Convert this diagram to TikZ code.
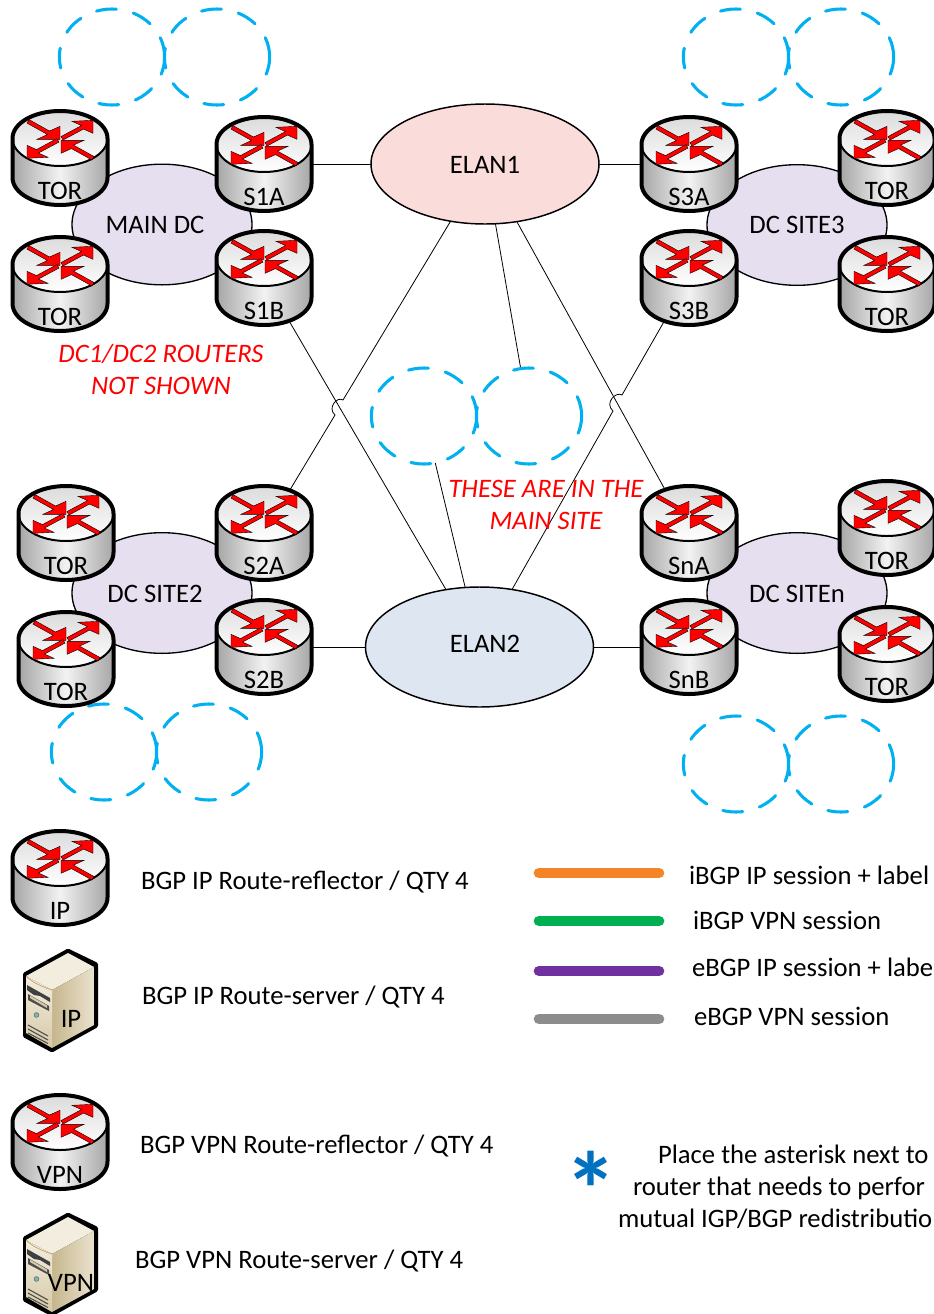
\documentclass[tikz,border=0pt]{standalone}
\usepackage{fontspec}
\setmainfont{Carlito}
\usetikzlibrary{shapes.geometric,backgrounds}
\definecolor{cloudblue}{HTML}{00B0F0}
\definecolor{dcfill}{HTML}{E6DFF0}
\definecolor{elanred}{HTML}{FADCDB}
\definecolor{elanblue}{HTML}{DEE6F2}
\definecolor{lorange}{HTML}{F58426}
\definecolor{lgreen}{HTML}{00B050}
\definecolor{lpurple}{HTML}{7030A0}
\definecolor{lgray}{HTML}{8C8C8C}
\definecolor{starblue}{HTML}{0070C0}
\definecolor{srvtop}{HTML}{F2EDDE}
\definecolor{srvrightA}{HTML}{C6B68E}
\definecolor{srvrightB}{HTML}{EAE2CE}
\definecolor{srvfrontA}{HTML}{F3EEE0}
\definecolor{srvfrontB}{HTML}{D6C9A6}
\definecolor{srvedge}{HTML}{C69A5E}
\tikzset{
  txt/.style={font=\fontsize{20}{24}\selectfont,text=black,inner sep=0pt,outer sep=0pt,text height=14pt,text depth=1.2pt},
  lefttxt/.style={txt,anchor=west},
  redtxt/.style={txt,text=red,font=\fontsize{20}{24}\selectfont\itshape},
  rtranchor/.style={circle,minimum size=70pt,inner sep=0pt,outer sep=0pt},
  dcell/.style={ellipse,draw=black,line width=1pt,fill=dcfill,minimum width=135pt,minimum height=90.5pt,inner sep=0pt,outer sep=0pt},
  elan/.style={ellipse,draw=black,line width=1.1pt,minimum width=171pt,minimum height=90pt,inner sep=0pt,outer sep=0pt},
  cloudell/.style={ellipse,draw=cloudblue,line width=2.3pt,line cap=round,dash pattern=on 15pt off 13pt,minimum width=79pt,minimum height=72pt,inner sep=0pt,outer sep=0pt},
  link/.style={draw=black,line width=0.6pt},
  legline/.style={line width=8pt,line cap=round},
  rarrow/.style={fill=red,draw=black,line width=0.3pt,line join=miter},
}
\newcommand{\rtr}[4]{%
  \node[rtranchor] (#1) at (#2,#3) {};
  \begin{scope}[shift={(#2,#3)}]
    \path[left color=black!35,right color=black!35,middle color=black!5]
      (-47.5,-19.5) -- (-47.5,19.5)
      .. controls (-47.5,35) and (-26,47) .. (0,47)
      .. controls (26,47) and (47.5,35) .. (47.5,19.5) -- (47.5,-19.5)
      .. controls (47.5,-35) and (26,-47) .. (0,-47)
      .. controls (-26,-47) and (-47.5,-35) .. (-47.5,-19.5) -- cycle;
    \path[top color=black!14,bottom color=white]
      (0,-19.5) ellipse [x radius=47.5,y radius=27.5];
    \draw[black,line width=1.5pt] (-47.5,-19.5)
      .. controls (-47.5,-4.3) and (-26,8) .. (0,8)
      .. controls (26,8) and (47.5,-4.3) .. (47.5,-19.5);
    \draw[black,line width=3pt]
      (-47.5,-19.5) -- (-47.5,19.5)
      .. controls (-47.5,35) and (-26,47) .. (0,47)
      .. controls (26,47) and (47.5,35) .. (47.5,19.5) -- (47.5,-19.5)
      .. controls (47.5,-35) and (26,-47) .. (0,-47)
      .. controls (-26,-47) and (-47.5,-35) .. (-47.5,-19.5) -- cycle;
    \begin{scope}[shift={(0,-19.7)}]
      \draw[rarrow] (-31,-18.7)--(-10.5,-7.3)--(0,-12)--(0,1)--(-23,1)--(-12.5,-3.8)--(-33,-15.2)--cycle;
      \draw[rarrow] (32,21.7)--(11.5,10.3)--(1,15)--(1,2)--(24,2)--(13.5,6.8)--(34,18.2)--cycle;
      \draw[rarrow] (1,-1.75)--(21.5,-12.75)--(12,-17)--(33,-18)--(33,-5)--(23.5,-9.25)--(3,1.75)--cycle;
      \draw[rarrow] (-1,3.75)--(-21.5,14.75)--(-12,19)--(-33,20)--(-33,7)--(-23.5,11.25)--(-3,0.25)--cycle;
    \end{scope}
  \end{scope}
  \node[txt] (#1label) at (#2,#3+33) {#4};
}
\newcommand{\srv}[3]{%
  \begin{scope}[shift={(0,#2)}]
    \fill[black,rounded corners=1pt] (68,18.5)--(98,33)--(98,97)--(52,122.5)--(23,107)--(23,43)--cycle;
    \fill[srvtop] (26,46)--(68,23)--(94,37)--(52,60)--cycle;
    \path[left color=srvrightA,right color=srvrightB] (52,60)--(94,37)--(94,95)--(52,118)--cycle;
    \path[top color=srvfrontA,bottom color=srvfrontB] (26,46)--(52,60)--(52,118)--(26,103)--cycle;
    \draw[srvedge,line width=0.5pt] (26,46) .. controls (33,53) and (43,57) .. (52,60);
    \fill[black!75] (27,55)--(50,68)--(50,72)--(40,66)--(34,65)--(27,60)--cycle;
    \fill[black!70] (28,64)--(49,76)--(49,81)--(28,70)--cycle;
    \fill[srvfrontB] (30,65.5)--(47,75.5)--(47,78)--(30,68)--cycle;
    \filldraw[fill=teal!55!white,draw=black!60,line width=0.4pt] (36.5,85) circle (1.8pt);
    \draw[black!70,line width=0.8pt] (28,95)--(48,106) (28,99)--(48,110) (28,103)--(48,113.5);
    \node[txt] (#1) at (71,89) {#3};
  \end{scope}
}
\begin{document}
\begin{tikzpicture}[x=0.75pt,y=-0.75pt]
\useasboundingbox (0,0) rectangle (934,1314);
\clip (0,0) rectangle (934,1314);
% site clouds
\node[dcell] (mainell) at (162,224.5) {};
\node[dcell] (site3ell) at (797,225) {};
\node[dcell] (site2ell) at (162,593) {};
\node[dcell] (sitenell) at (797,593) {};
\node[txt] (maintxt) at (155,225) {MAIN DC};
\node[txt] (site3txt) at (797,225) {DC SITE3};
\node[txt] (site2txt) at (155,594) {DC SITE2};
\node[txt] (sitentxt) at (797,594) {DC SITEn};
\node[elan,fill=elanred] (ELANa) at (485,164) {};
\node[elan,fill=elanblue] (ELANb) at (479.5,647) {};
\node[txt] (ELANatxt) at (485,165) {ELAN1};
\node[txt] (ELANbtxt) at (485,644) {ELAN2};
% dashed clouds
\node[cloudell] (c1a) at (112,57) {};
\node[cloudell] (c1b) at (217,57) {};
\node[cloudell] (c2a) at (736,57) {};
\node[cloudell] (c2b) at (841,57) {};
\node[cloudell] (c3a) at (424,416) {};
\node[cloudell] (c3b) at (529,416) {};
\node[cloudell] (c4a) at (104,752) {};
\node[cloudell] (c4b) at (209,752) {};
\node[cloudell] (c5a) at (736,764) {};
\node[cloudell] (c5b) at (841,764) {};
% routers
\rtr{TORa}{60}{158}{TOR}
\rtr{TORb}{60}{284}{TOR}
\rtr{SoneA}{264}{164}{S1A}
\rtr{SoneB}{264}{278}{S1B}
\rtr{SthrA}{689}{164}{S3A}
\rtr{SthrB}{689}{278}{S3B}
\rtr{TORc}{887}{158}{TOR}
\rtr{TORd}{887}{284}{TOR}
\rtr{TORe}{66}{533}{TOR}
\rtr{TORf}{66}{659}{TOR}
\rtr{StwoA}{264}{533}{S2A}
\rtr{StwoB}{264}{647}{S2B}
\rtr{SnA}{689}{533}{SnA}
\rtr{SnB}{689}{647}{SnB}
\rtr{TORg}{887}{528}{TOR}
\rtr{TORh}{887}{654}{TOR}
\rtr{legIP}{60}{878}{IP}
\rtr{legVPN}{60}{1142}{VPN}
% connectors
\coordinate (bAa) at (343,400);
\coordinate (bAb) at (335,415);
\coordinate (bBa) at (622,395);
\coordinate (bBb) at (613,411);
\begin{pgfonlayer}{background}
\draw[link] (ELANa) -- (SoneA);
\draw[link] (ELANa) -- (SthrA);
\draw[link] (ELANb) -- (StwoB);
\draw[link] (ELANb) -- (SnB);
\draw[link] (ELANa) -- (SnA);
\draw[link] (SoneB) -- (ELANb);
\draw[link] (ELANa) -- (c3b);
\draw[link] (c3a) -- (ELANb);
\draw[link] (ELANa) -- (bAa) .. controls (337,396) and (327,408) .. (bAb) -- (StwoA);
\draw[link] (SthrB) -- (bBa) .. controls (616,391) and (604,403) .. (bBb) -- (ELANb);
\end{pgfonlayer}
% red notes
\node[redtxt] (noteA) at (161,354) {DC1/DC2 ROUTERS};
\node[redtxt] (noteB) at (161,386) {NOT SHOWN};
\node[redtxt] (noteC) at (546,489) {THESE ARE IN THE};
\node[redtxt] (noteD) at (546,521) {MAIN SITE};
% legend
\srv{srvIP}{930}{IP}
\srv{srvVPN}{1194}{VPN}
\node[lefttxt] (tA) at (141,881) {BGP IP Route-reflector / QTY 4};
\node[lefttxt] (tB) at (142,996) {BGP IP Route-server / QTY 4};
\node[lefttxt] (tC) at (140,1145) {BGP VPN Route-reflector / QTY 4};
\node[lefttxt] (tD) at (135,1260) {BGP VPN Route-server / QTY 4};
\coordinate (la1) at (539,873); \coordinate (la2) at (659,873);
\coordinate (lb1) at (539,921); \coordinate (lb2) at (659,921);
\coordinate (lc1) at (539,971); \coordinate (lc2) at (659,971);
\coordinate (ld1) at (539,1019); \coordinate (ld2) at (659,1019);
\draw[legline,lorange] (la1) -- (la2);
\draw[legline,lgreen] (lb1) -- (lb2);
\draw[legline,lpurple] (lc1) -- (lc2);
\draw[legline,lgray] (ld1) -- (ld2);
\node[lefttxt] (ta) at (689,876) {iBGP IP session + label};
\node[lefttxt] (tb) at (693,921) {iBGP VPN session};
\node[lefttxt] (tc) at (692,968) {eBGP IP session + labe};
\node[lefttxt] (td) at (694,1017) {eBGP VPN session};
\node[inner sep=0pt,text=starblue,font=\fontsize{80}{80}\selectfont\bfseries] (star) at (591,1189) {*};
\node[lefttxt] (pa) at (658,1155) {Place the asterisk next to};
\node[lefttxt] (pb) at (633,1187) {router that needs to perfor};
\node[lefttxt] (pc) at (618,1219) {mutual IGP/BGP redistributio};
\end{tikzpicture}
\end{document}
